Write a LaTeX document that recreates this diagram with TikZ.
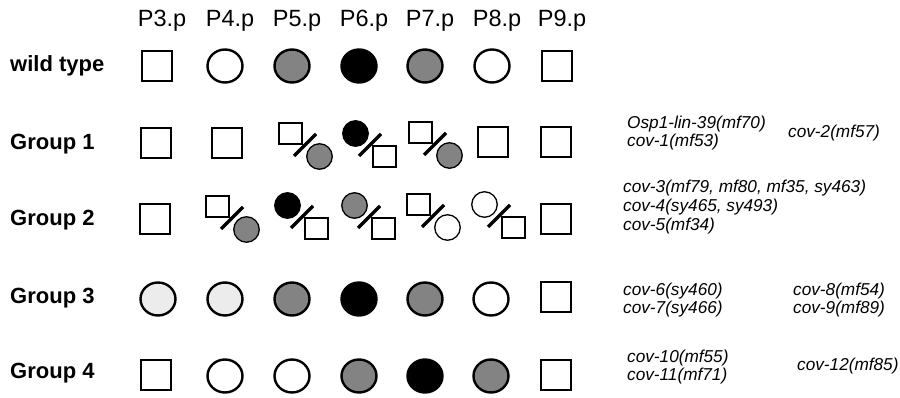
\documentclass[tikz,border=0pt]{standalone}
\usepackage{fontspec}
\setmainfont{Liberation Sans}
\usetikzlibrary{calc,shapes.geometric}

\definecolor{midgray}{HTML}{838383}
\definecolor{palegray}{HTML}{ECECEC}

\tikzset{
  hdr/.style={anchor=base, inner sep=0pt, font=\fontsize{23.5}{27}\selectfont},
  rowlbl/.style={anchor=base west, inner sep=0pt, font=\fontsize{22}{26}\selectfont\bfseries},
  allele/.style={anchor=west, inner sep=0pt, align=left,
    font=\fontsize{17.2}{18.6}\selectfont\itshape},
  bigsq/.style={draw, line width=2.5pt, minimum size=30pt, inner sep=0pt},
  bigcirc/.style={ellipse, draw, line width=2.4pt, minimum width=35pt,
    minimum height=33pt, inner sep=0pt},
  smsq/.style={draw, line width=1.3pt, minimum width=23pt, minimum height=21pt, inner sep=0pt},
  smcirc/.style={circle, draw, line width=1.3pt, minimum size=25.5pt, inner sep=0pt},
  wf/.style={fill=white},
  gf/.style={fill=midgray},
  bf/.style={fill=black},
  lf/.style={fill=palegray},
  slash/.style={line width=3.4pt},
}

% a mixed fate: one cell at upper left, one at lower right, split by a slash
\newcommand{\cellpair}[5]{%
  \coordinate (#1) at (#2,#3);
  \node[#4] (#1-a) at ($(#1)+(-14.5,-11.5)$) {};
  \node[#5] (#1-b) at ($(#1)+(14.5,11.5)$) {};
  \draw[slash] ($(#1)+(-11,11)$) -- ($(#1)+(11,-11)$);
}

\begin{document}
\begin{tikzpicture}[x=1pt, y=-1pt]
\useasboundingbox[fill=white] (0,0) rectangle (900,398);

% column headings
\node[hdr] (h3) at (162,27) {P3.p};
\node[hdr] (h4) at (230,27) {P4.p};
\node[hdr] (h5) at (297,27) {P5.p};
\node[hdr] (h6) at (364,27) {P6.p};
\node[hdr] (h7) at (430,27) {P7.p};
\node[hdr] (h8) at (497,27) {P8.p};
\node[hdr] (h9) at (562,27) {P9.p};

% row labels
\node[rowlbl] (lwt) at (10,72) {wild type};
\node[rowlbl] (lg1) at (10,150) {Group 1};
\node[rowlbl] (lg2) at (10,226) {Group 2};
\node[rowlbl] (lg3) at (10,304) {Group 3};
\node[rowlbl] (lg4) at (10,378) {Group 4};

% wild type
\node[bigsq, wf]   (wt3) at (157,66) {};
\node[bigcirc, wf] (wt4) at (225,66) {};
\node[bigcirc, gf] (wt5) at (292,66) {};
\node[bigcirc, bf] (wt6) at (359,66) {};
\node[bigcirc, gf] (wt7) at (425,66) {};
\node[bigcirc, wf] (wt8) at (492,66) {};
\node[bigsq, wf]   (wt9) at (557,66) {};

% group 1
\node[bigsq, wf] (a3) at (156,143) {};
\node[bigsq, wf] (a4) at (227,143) {};
\cellpair{a5}{305}{145}{smsq, wf}{smcirc, gf}
\cellpair{a6}{370}{145}{smcirc, bf}{smsq, wf}
\cellpair{a7}{435}{144}{smsq, wf}{smcirc, gf}
\node[bigsq, wf] (a8) at (493,142) {};
\node[bigsq, wf] (a9) at (556,142) {};

% group 2
\node[bigsq, wf] (b3) at (155,219) {};
\cellpair{b4}{232}{218}{smsq, wf}{smcirc, gf}
\cellpair{b5}{302}{217}{smcirc, bf}{smsq, wf}
\cellpair{b6}{369}{217}{smcirc, gf}{smsq, wf}
\cellpair{b7}{433}{216}{smsq, wf}{smcirc, wf}
\cellpair{b8}{499}{216}{smcirc, wf}{smsq, wf}
\node[bigsq, wf] (b9) at (556,219) {};

% group 3
\node[bigcirc, lf] (c3) at (158,299) {};
\node[bigcirc, lf] (c4) at (225,299) {};
\node[bigcirc, gf] (c5) at (292,299) {};
\node[bigcirc, bf] (c6) at (359,299) {};
\node[bigcirc, gf] (c7) at (425,299) {};
\node[bigcirc, wf] (c8) at (491,299) {};
\node[bigsq, wf]   (c9) at (556,297) {};

% group 4
\node[bigsq, wf]   (d3) at (156,375) {};
\node[bigcirc, wf] (d4) at (225,376) {};
\node[bigcirc, wf] (d5) at (292,376) {};
\node[bigcirc, gf] (d6) at (359,376) {};
\node[bigcirc, bf] (d7) at (425,376) {};
\node[bigcirc, gf] (d8) at (491,376) {};
\node[bigsq, wf]   (d9) at (556,375) {};

% alleles
\node[allele] (m1) at (627,133) {Osp1-lin-39(mf70)\\cov-1(mf53)};
\node[allele] (m2) at (788,133) {cov-2(mf57)};
\node[allele] (m3) at (623,207) {cov-3(mf79, mf80, mf35, sy463)\\cov-4(sy465, sy493)\\cov-5(mf34)};
\node[allele] (m4) at (623,300) {cov-6(sy460)\\cov-7(sy466)};
\node[allele] (m5) at (793,300) {cov-8(mf54)\\cov-9(mf89)};
\node[allele] (m6) at (627,367) {cov-10(mf55)\\cov-11(mf71)};
\node[allele] (m7) at (797,366) {cov-12(mf85)};
\end{tikzpicture}
\end{document}
